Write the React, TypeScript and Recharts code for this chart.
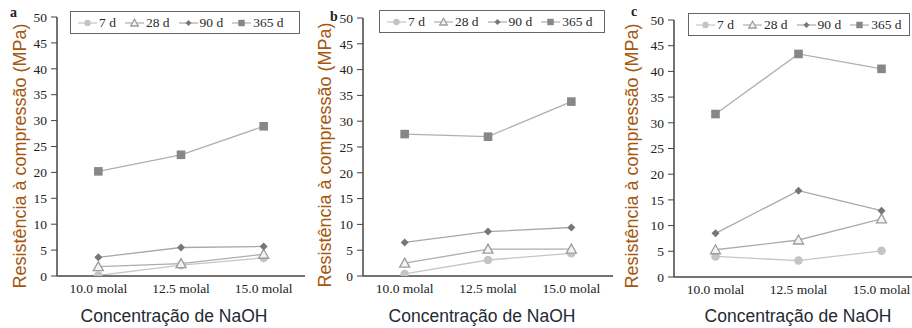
import { LineChart, Line, XAxis, YAxis, Legend } from "recharts"

const CONCENTRATIONS = ["10.0 molal", "12.5 molal", "15.0 molal"]
const Y_TICKS = [0, 5, 10, 15, 20, 25, 30, 35, 40, 45, 50]
const SERIES_LABELS = ["7 d", "28 d", "90 d", "365 d"]
const Y_TITLE = "Resistência à compressão (MPa)"
const X_TITLE = "Concentração de NaOH"

// panel a
const A_7D = [0.1, 2.1, 3.5]
const A_28D = [1.8, 2.4, 4.2]
const A_90D = [3.6, 5.5, 5.7]
const A_365D = [20.2, 23.4, 28.9]

// panel b
const B_7D = [0.4, 3.1, 4.4]
const B_28D = [2.5, 5.2, 5.2]
const B_90D = [6.5, 8.6, 9.4]
const B_365D = [27.5, 27.0, 33.8]

// panel c
const C_7D = [4.0, 3.2, 5.1]
const C_28D = [5.3, 7.2, 11.3]
const C_90D = [8.5, 16.8, 12.9]
const C_365D = [31.7, 43.4, 40.5]

const KEYS = ["d7", "d28", "d90", "d365"]

function buildRows(s7: number[], s28: number[], s90: number[], s365: number[]) {
  return CONCENTRATIONS.map((conc, i) => ({
    conc,
    d7: s7[i],
    d28: s28[i],
    d90: s90[i],
    d365: s365[i],
  }))
}

const SERIF = "'Liberation Serif', 'Times New Roman', serif"
const SANS = "'Liberation Sans', Arial, sans-serif"

const STYLES: Record<string, { line: string; shape: string; color: string }> = {
  d7: { line: "#c6c6c6", shape: "circle", color: "#c4c4c4" },
  d28: { line: "#adadad", shape: "triangle", color: "#9c9c9c" },
  d90: { line: "#a8a8a8", shape: "diamond", color: "#767676" },
  d365: { line: "#b0b0b0", shape: "square", color: "#878787" },
}

function Marker({ shape, color, cx, cy, scale = 1 }: any) {
  if (shape === "circle") return <circle cx={cx} cy={cy} r={4.3 * scale} fill={color} />
  if (shape === "triangle") {
    const h = 5 * scale
    return (
      <path
        d={`M${cx},${cy - h} L${cx + h},${cy + h * 0.8} L${cx - h},${cy + h * 0.8} Z`}
        fill="#f4f4f4"
        stroke={color}
        strokeWidth={1.3}
      />
    )
  }
  if (shape === "diamond") {
    const d = 4 * scale
    return <path d={`M${cx},${cy - d} L${cx + d},${cy} L${cx},${cy + d} L${cx - d},${cy} Z`} fill={color} />
  }
  const s = 4.3 * scale
  return <rect x={cx - s} y={cy - s} width={s * 2} height={s * 2} fill={color} />
}

function makeDot(key: string) {
  const st = STYLES[key]
  return (props: any) => {
    const { cx, cy, index } = props
    return (
      <g key={`${key}-${index}`}>
        <Marker shape={st.shape} color={st.color} cx={cx} cy={cy} />
      </g>
    )
  }
}

function LegendBox({ width }: { width: number }) {
  return (
    <div
      style={{
        width,
        height: 23,
        boxSizing: "border-box",
        border: "1.3px solid #666",
        background: "#fff",
        display: "flex",
        alignItems: "center",
        paddingLeft: 7,
        gap: 9,
        fontFamily: SERIF,
        fontSize: 13.5,
        color: "#2a2a2a",
      }}
    >
      {KEYS.map((k, i) => (
        <div key={k} style={{ display: "flex", alignItems: "center", gap: 2 }}>
          <svg width={19} height={12}>
            <line x1={0} y1={6} x2={19} y2={6} stroke={STYLES[k].line} strokeWidth={1.2} />
            <Marker shape={STYLES[k].shape} color={STYLES[k].color} cx={9.5} cy={6} scale={0.75} />
          </svg>
          <span>{SERIES_LABELS[i]}</span>
        </div>
      ))}
    </div>
  )
}

const PANELS = [
  {
    letter: "a",
    rows: buildRows(A_7D, A_28D, A_90D, A_365D),
    left: 0,
    width: 310,
    axisWidth: 57,
    top: 17,
    bottom: 276,
    legend: { left: 70, top: 11, width: 230 },
    yTitle: { x: 26, y: 156 },
    xTitleX: 174,
    letterPos: { left: 10, top: 6 },
  },
  {
    letter: "b",
    rows: buildRows(B_7D, B_28D, B_90D, B_365D),
    left: 300,
    width: 318,
    axisWidth: 63,
    top: 18,
    bottom: 276,
    legend: { left: 79, top: 10, width: 226 },
    yTitle: { x: 31, y: 155 },
    xTitleX: 182,
    letterPos: { left: 330, top: 10 },
  },
  {
    letter: "c",
    rows: buildRows(C_7D, C_28D, C_90D, C_365D),
    left: 610,
    width: 318,
    axisWidth: 64,
    top: 20,
    bottom: 277,
    legend: { left: 78, top: 13, width: 222 },
    yTitle: { x: 28, y: 156 },
    xTitleX: 188,
    letterPos: { left: 631, top: 5 },
  },
]

const H = 328
const X_AXIS_H = 45

function Panel({ p }: { p: (typeof PANELS)[number] }) {
  return (
    <div style={{ position: "absolute", left: p.left, top: 0 }}>
      <LineChart
        width={p.width}
        height={H}
        data={p.rows}
        margin={{ top: p.top, right: 5, bottom: H - p.bottom - X_AXIS_H, left: 0 }}
      >
        <XAxis
          dataKey="conc"
          scale="band"
          height={X_AXIS_H}
          tickLine={false}
          tickSize={6}
          tickMargin={1}
          axisLine={{ stroke: "#444", strokeWidth: 1.5 }}
          tick={{ fontFamily: SERIF, fontSize: 13.5, fill: "#222" }}
          label={{
            content: () => (
              <text
                x={p.xTitleX}
                y={322}
                textAnchor="middle"
                fontFamily={SANS}
                fontSize={17.5}
                fill="#222a33"
              >
                {X_TITLE}
              </text>
            ),
          }}
        />
        <XAxis
          xAxisId="top"
          dataKey="conc"
          scale="band"
          orientation="top"
          height={0}
          tick={false}
          tickLine={false}
          axisLine={{ stroke: "#777", strokeWidth: 1.2 }}
        />
        <YAxis
          domain={[0, 50]}
          ticks={Y_TICKS}
          width={p.axisWidth}
          tickSize={6}
          tickMargin={4}
          allowDataOverflow
          axisLine={{ stroke: "#444", strokeWidth: 1.5 }}
          tickLine={{ stroke: "#444" }}
          tick={{ fontFamily: SERIF, fontSize: 13.5, fill: "#222" }}
          label={{
            content: () => (
              <text
                transform={`translate(${p.yTitle.x},${p.yTitle.y}) rotate(-90)`}
                textAnchor="middle"
                fontFamily={SANS}
                fontSize={18}
                fill="#a5570f"
              >
                {Y_TITLE}
              </text>
            ),
          }}
        />
        <YAxis
          yAxisId="right"
          orientation="right"
          domain={[0, 50]}
          width={0}
          tick={false}
          tickLine={false}
          axisLine={{ stroke: "#777", strokeWidth: 1.2 }}
        />
        {KEYS.map((k, i) => (
          <Line
            key={k}
            dataKey={k}
            name={SERIES_LABELS[i]}
            type="linear"
            stroke={STYLES[k].line}
            strokeWidth={1.3}
            dot={makeDot(k)}
            activeDot={false}
            isAnimationActive={false}
          />
        ))}
        <Legend
          layout="horizontal"
          verticalAlign="middle"
          align="center"
          wrapperStyle={{ left: p.legend.left, top: p.legend.top, width: p.legend.width }}
          content={() => <LegendBox width={p.legend.width} />}
        />
      </LineChart>
    </div>
  )
}

export default function App() {
  return (
    <div
      style={{
        position: "absolute",
        left: 0,
        top: 0,
        width: 912,
        height: H,
        overflow: "hidden",
        background: "#fff",
      }}
    >
      {PANELS.map((p) => (
        <Panel key={p.letter} p={p} />
      ))}
      {PANELS.map((p) => (
        <span
          key={`l-${p.letter}`}
          style={{
            position: "absolute",
            left: p.letterPos.left,
            top: p.letterPos.top,
            fontFamily: SERIF,
            fontWeight: "bold",
            fontSize: 14,
            lineHeight: "14px",
            color: "#222",
          }}
        >
          {p.letter}
        </span>
      ))}
    </div>
  )
}
